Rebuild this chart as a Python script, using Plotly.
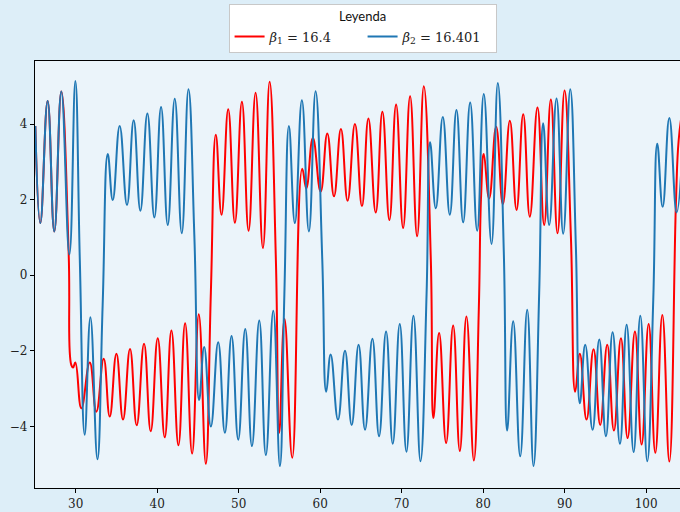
import plotly.graph_objects as go

# Series (extrema and transition points)
red_x = [25.04, 25.65, 26.55, 27.37, 28.23, 29.13, 29.46, 29.67, 29.95, 30.69, 31.72, 32.53, 33.43,
         34.17, 34.99, 35.8, 36.66, 37.48, 38.38, 39.2, 40.06, 40.92, 41.74, 42.6, 43.42, 44.28,
         45.1, 45.96, 46.58, 47.19, 47.89, 48.71, 49.53, 50.39, 51.21, 52.07, 52.97, 53.79, 54.56,
         54.97, 55.62, 56.57, 57.79, 58.29, 59.1, 60.05, 60.87, 61.69, 62.54, 63.36, 64.26, 65.12,
         65.91, 66.81, 67.63, 68.49, 69.31, 70.17, 71.03, 71.89, 72.71, 73.57, 73.89, 74.59, 75.45,
         76.31, 77.13, 77.94, 78.85, 79.46, 79.75, 80.07, 80.73, 81.59, 82.41, 83.27, 84.09, 84.91,
         85.72, 86.66, 87.48, 88.3, 89.12, 89.98, 90.76, 91.29, 91.86, 92.68, 93.54, 94.36, 95.22,
         96.04, 96.9, 97.72, 98.62, 99.44, 100.3, 101.12, 101.98, 102.84, 103.66, 103.98, 104.4]
red_y = [3.95, 1.38, 4.61, 1.16, 4.86, 0.59, -2.38, -2.44, -2.31, -3.52, -2.31, -3.61, -2.21,
         -3.74, -2.08, -3.82, -1.95, -3.97, -1.81, -4.13, -1.67, -4.29, -1.46, -4.5, -1.27, -4.72,
         -1.03, -4.99, -0.46, 3.72, 1.6, 4.39, 1.39, 4.59, 1.18, 4.83, 0.72, 5.12, 0.4,
         -4.17, -1.16, -4.83, 2.82, 2.3, 3.63, 2.21, 3.75, 2.09, 3.87, 1.97, 4.0, 1.83,
         4.15, 1.66, 4.33, 1.46, 4.52, 1.25, 4.74, 1.03, 5.0, 0.42, -3.78, -1.53, -4.44,
         -1.33, -4.65, -1.09, -4.9, -0.9, 2.16, 3.21, 2.03, 3.93, 1.88, 4.09, 1.73, 4.26,
         1.55, 4.44, 1.33, 4.65, 1.11, 4.89, 1.03, -3.08, -2.08, -3.82, -1.96, -3.96, -1.84,
         -4.11, -1.67, -4.31, -1.49, -4.48, -1.29, -4.7, -1.05, -4.93, 1.99, 3.56, 4.3]

blue_x = [25.04, 25.65, 26.55, 27.37, 28.23, 29.22, 29.95, 30.5, 31.1, 31.8, 32.66, 33.3, 33.93,
          34.54, 35.39, 36.29, 37.11, 37.93, 38.79, 39.65, 40.47, 41.29, 42.15, 43.01, 43.83,
          44.56, 45.14, 45.76, 46.58, 47.48, 48.3, 49.12, 49.94, 50.8, 51.62, 52.52, 53.33, 54.24,
          55.05, 55.6, 56.16, 56.89, 57.75, 58.61, 59.43, 60.25, 60.74, 61.28, 62.18, 63.04, 63.86,
          64.71, 65.5, 66.4, 67.22, 68.08, 68.9, 69.76, 70.58, 71.44, 72.3, 73.05, 73.48, 74.18,
          75.04, 75.9, 76.72, 77.54, 78.4, 79.26, 80.07, 81.02, 81.79, 82.53, 82.94, 83.68, 84.54,
          85.4, 86.17, 86.87, 87.36, 88.1, 89.0, 89.82, 90.68, 91.37, 91.86, 92.52, 93.42, 94.24,
          95.06, 95.88, 96.78, 97.6, 98.46, 99.28, 100.13, 100.87, 101.36, 102.02, 102.84, 103.74,
          104.5]
blue_y = [3.95, 1.38, 4.61, 1.16, 4.86, 0.55, 5.14, 0.4, -4.22, -1.11, -4.87, -0.8, 3.21,
          1.99, 3.95, 1.86, 4.10, 1.71, 4.28, 1.53, 4.45, 1.33, 4.67, 1.11, 4.92,
          1.0, -3.3, -1.9, -4.0, -1.77, -4.17, -1.61, -4.35, -1.42, -4.52, -1.2, -4.76, -0.94,
          -5.05, -0.5, 3.95, 1.38, 4.63, 1.16, 4.87, 0.42, -3.08, -2.1, -3.82, -2.0, -3.96,
          -1.84, -4.09, -1.68, -4.26, -1.49, -4.46, -1.29, -4.67, -1.07, -4.92, -0.5, 3.52, 1.77,
          4.19, 1.6, 4.37, 1.4, 4.57, 1.18, 4.8, 0.83, 5.09, 0.59, -4.11, -1.22, -4.79,
          -0.91, -5.05, -0.46, 4.02, 1.33, 4.68, 1.1, 4.92, 0.76, -3.39, -1.84, -4.09, -1.7,
          -4.26, -1.51, -4.46, -1.31, -4.68, -1.07, -4.92, -0.63, 3.48, 1.81, 4.16, 1.66,
          3.6]

x_ticks = [30, 40, 50, 60, 70, 80, 90, 100]
y_ticks = [-4, -2, 0, 2, 4]
names = ["<i>β</i><sub>1</sub> = 16.4", "<i>β</i><sub>2</sub> = 16.401"]
legend_title = "Leyenda"

fig = go.Figure()
fig.add_trace(go.Scatter(x=red_x, y=red_y, mode="lines", name=names[0],
                         line=dict(color="#ff0000", width=2, shape="spline", smoothing=1.3)))
fig.add_trace(go.Scatter(x=blue_x, y=blue_y, mode="lines", name=names[1],
                         line=dict(color="#1f77b4", width=2, shape="spline", smoothing=1.3)))

axis_font = dict(family="DejaVu Serif", size=12, color="#222222")
fig.update_layout(
    width=688, height=512,
    margin=dict(l=35, r=0, t=61, b=24, autoexpand=False),
    paper_bgcolor="#ddeef8",
    plot_bgcolor="#ebf4fa",
    showlegend=True,
    legend=dict(
        orientation="h", xref="container", yref="container",
        x=0.527, xanchor="center", y=0.993, yanchor="top",
        bgcolor="#ffffff", bordercolor="#c8c8c8", borderwidth=1,
        font=dict(family="DejaVu Serif", size=13, color="#222222"),
        title=dict(text=legend_title, side="top center",
                   font=dict(family="Lato", size=13, color="#111111")),
        itemwidth=30, entrywidth=88, tracegroupgap=0,
    ),
    xaxis=dict(range=[25, 105.13], tickvals=x_ticks, showgrid=False, zeroline=False,
               automargin=False,
               showline=True, linecolor="#000000", linewidth=1.2, mirror=True,
               ticks="outside", ticklen=4, tickcolor="#000000", tickfont=axis_font),
    yaxis=dict(range=[-5.63, 5.67], tickvals=y_ticks, showgrid=False, zeroline=False,
               automargin=False,
               showline=True, linecolor="#000000", linewidth=1.2, mirror=False,
               ticks="outside", ticklen=4, tickcolor="#000000", tickfont=axis_font),
)

fig.write_html(
    "out.html",
    config={"displayModeBar": False},
    post_script="document.body.style.margin='0';document.body.style.overflow='hidden';"
                "document.body.style.background='#ddeef8';",
)
